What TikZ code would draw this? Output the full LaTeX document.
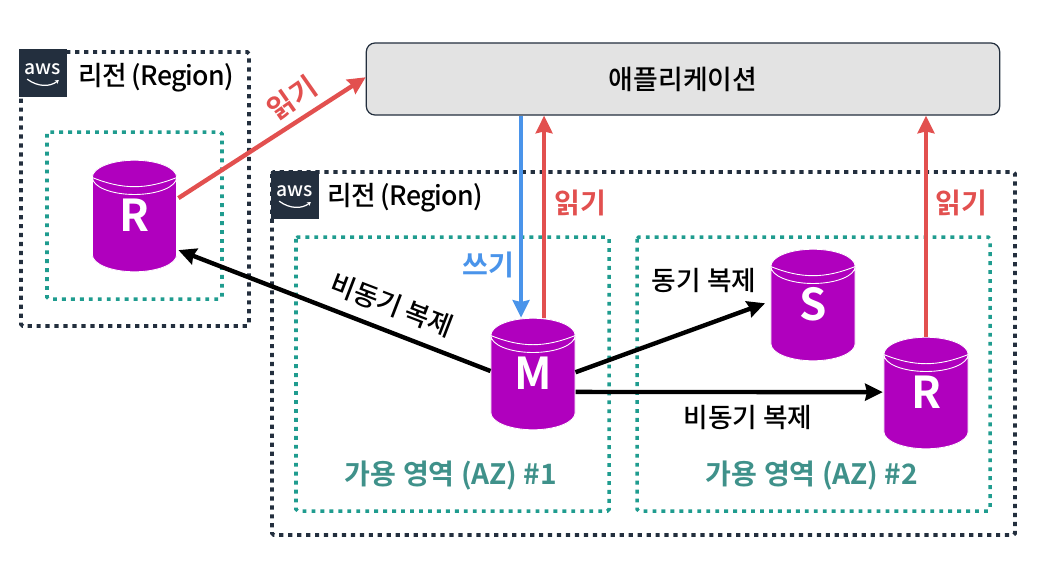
\documentclass[tikz,border=0pt]{standalone}
\usepackage{fontspec}
\setmainfont{Noto Sans CJK KR Medium}[BoldFont={Noto Sans CJK KR Bold}]
\usepackage{tikz}
\usetikzlibrary{shapes.geometric,arrows.meta,calc}
\definecolor{awsdark}{HTML}{232F3E}
\definecolor{azteal}{HTML}{1F9C8F}
\definecolor{aztext}{HTML}{3F918A}
\definecolor{dbpurple}{HTML}{B000BE}
\definecolor{readred}{HTML}{E2504F}
\definecolor{writeblue}{HTML}{4A94EA}
\tikzset{
  regionbox/.style={draw=awsdark,line width=2.2pt,dash pattern=on 2.4pt off 2.7pt},
  azbox/.style={draw=azteal,line width=2pt,dash pattern=on 2.2pt off 2.9pt},
  rdsdb/.style={shape=cylinder,shape border rotate=90,aspect=1.3,draw=white,line width=.5pt,anchor=shape center,
    fill=dbpurple,cylinder uses custom fill,cylinder end fill=dbpurple,cylinder body fill=dbpurple,
    minimum width=48pt,minimum height=63.5pt,inner sep=0pt,text=white,text depth=11pt,font=\fontsize{25}{25}\selectfont\bfseries},
  awslogo/.style={fill=awsdark,minimum size=27.3pt,inner sep=0pt,text=white,font=\fontsize{11}{11}\selectfont},
  smile/.style={white,line width=.7pt,-{Stealth[length=2pt,width=2.5pt]}},
  arrowline/.style={line width=2.5pt,-{Stealth[length=10pt,width=9.5pt,inset=1pt]}},
  lbl/.style={font=\fontsize{15.2}{15.2}\selectfont,inner sep=0pt},
  regionlbl/.style={font=\fontsize{15.2}{15.2}\selectfont\addfontfeature{LetterSpace=-3},inner sep=0pt,anchor=west},
  redlbl/.style={font=\fontsize{16}{16}\selectfont\bfseries,text=readred,inner sep=0pt},
  azlbl/.style={font=\fontsize{16}{16}\selectfont\bfseries,text=aztext,inner sep=0pt}
}
\begin{document}
\begin{tikzpicture}[x=0.02cm,y=-0.02cm]
    \useasboundingbox (0,0) rectangle (1050,566);

    % 리전 영역
    \draw[regionbox,rounded corners=1pt] (21,52) rectangle (249,326);
    \draw[regionbox,rounded corners=1pt] (272,172) rectangle (1015,535);

    % 가용 영역
    \draw[azbox,rounded corners=1pt] (47,132) rectangle (222,299);
    \draw[azbox,rounded corners=1pt] (296,237) rectangle (609,511);
    \draw[azbox,rounded corners=1pt] (637,237) rectangle (990,511);

    % AWS 로고
    \node[awslogo] (logoleft) at (43,73) {\raisebox{4pt}{aws}};
    \draw[smile] ([xshift=-9pt,yshift=-3.5pt]logoleft.center) .. controls ([xshift=-3pt,yshift=-8pt]logoleft.center) and ([xshift=4pt,yshift=-8pt]logoleft.center) .. ([xshift=9pt,yshift=-4pt]logoleft.center);
    \node[awslogo] (logoright) at (295,195) {\raisebox{4pt}{aws}};
    \draw[smile] ([xshift=-9pt,yshift=-3.5pt]logoright.center) .. controls ([xshift=-3pt,yshift=-8pt]logoright.center) and ([xshift=4pt,yshift=-8pt]logoright.center) .. ([xshift=9pt,yshift=-4pt]logoright.center);

    % 리전 이름
    \node[regionlbl] (regionleft) at (78,78) {리전 (Region)};
    \node[regionlbl] (regionright) at (327,198) {리전 (Region)};

    % 애플리케이션
    \node[draw=awsdark,line width=.7pt,fill=black!11,rounded corners=5pt,minimum width=360.5pt,minimum height=41pt,
      font=\fontsize{15.3}{15.3}\selectfont] (app) at (683,79) {애플리케이션};

    % 데이터베이스
    \node[rdsdb] (dbleft) at (134.5,216) {\makebox[15pt]{R}};
    \node[rdsdb] (dbmaster) at (533,374) {\makebox[15pt]{M}};
    \node[rdsdb] (dbsync) at (813,305) {\makebox[15pt]{S}};
    \node[rdsdb] (dbright) at (926,393) {\makebox[15pt]{R}};
    \foreach \db in {dbleft,dbmaster,dbsync,dbright}
        \draw[white,line width=.5pt] (\db.before top) to[bend right=22] (\db.after top);

    % 읽기 화살표
    \draw[arrowline,readred] ([xshift=25pt,yshift=10.2pt]dbleft.shape center) -- ([yshift=1pt]app.west);
    \draw[arrowline,readred] ([xshift=6.3pt]dbmaster.north) -- ([xshift=6.3pt]dbmaster.north |- app.south);
    \draw[arrowline,readred] (dbright.north) -- (dbright.north |- app.south);

    % 쓰기 화살표
    \draw[arrowline,writeblue] ([xshift=-6.8pt]dbmaster.north |- app.south) -- ([xshift=-6.8pt]dbmaster.north);

    % 복제 화살표
    \draw[arrowline,black] ([xshift=-24.2pt,yshift=1.7pt]dbmaster.shape center) -- ([xshift=25pt,yshift=-19.4pt]dbleft.shape center);
    \draw[arrowline,black] ([xshift=24.2pt,yshift=1pt]dbmaster.shape center) -- ([xshift=-27.3pt,yshift=1pt]dbsync.shape center);
    \draw[arrowline,black] ([xshift=24.2pt,yshift=-10.2pt]dbmaster.shape center) -- ([xshift=-24.6pt,yshift=.5pt]dbright.shape center);

    % 화살표 글자
    \node[redlbl,rotate=35] (readleft) at (292,98) {읽기};
    \node[redlbl] (readmaster) at (580,203) {읽기};
    \node[redlbl] (readright) at (961,203) {읽기};
    \node[redlbl,text=writeblue] (writemaster) at (488,265) {쓰기};
    \node[lbl,rotate=-21] (asyncleft) at (392,305) {비동기 복제};
    \node[lbl] (syncright) at (704,280) {동기 복제};
    \node[lbl] (asyncright) at (748,417) {비동기 복제};

    % 가용 영역 이름
    \node[azlbl] (azone) at (451,476) {가용 영역 (AZ) \#1};
    \node[azlbl] (aztwo) at (812,476) {가용 영역 (AZ) \#2};
\end{tikzpicture}
\end{document}
